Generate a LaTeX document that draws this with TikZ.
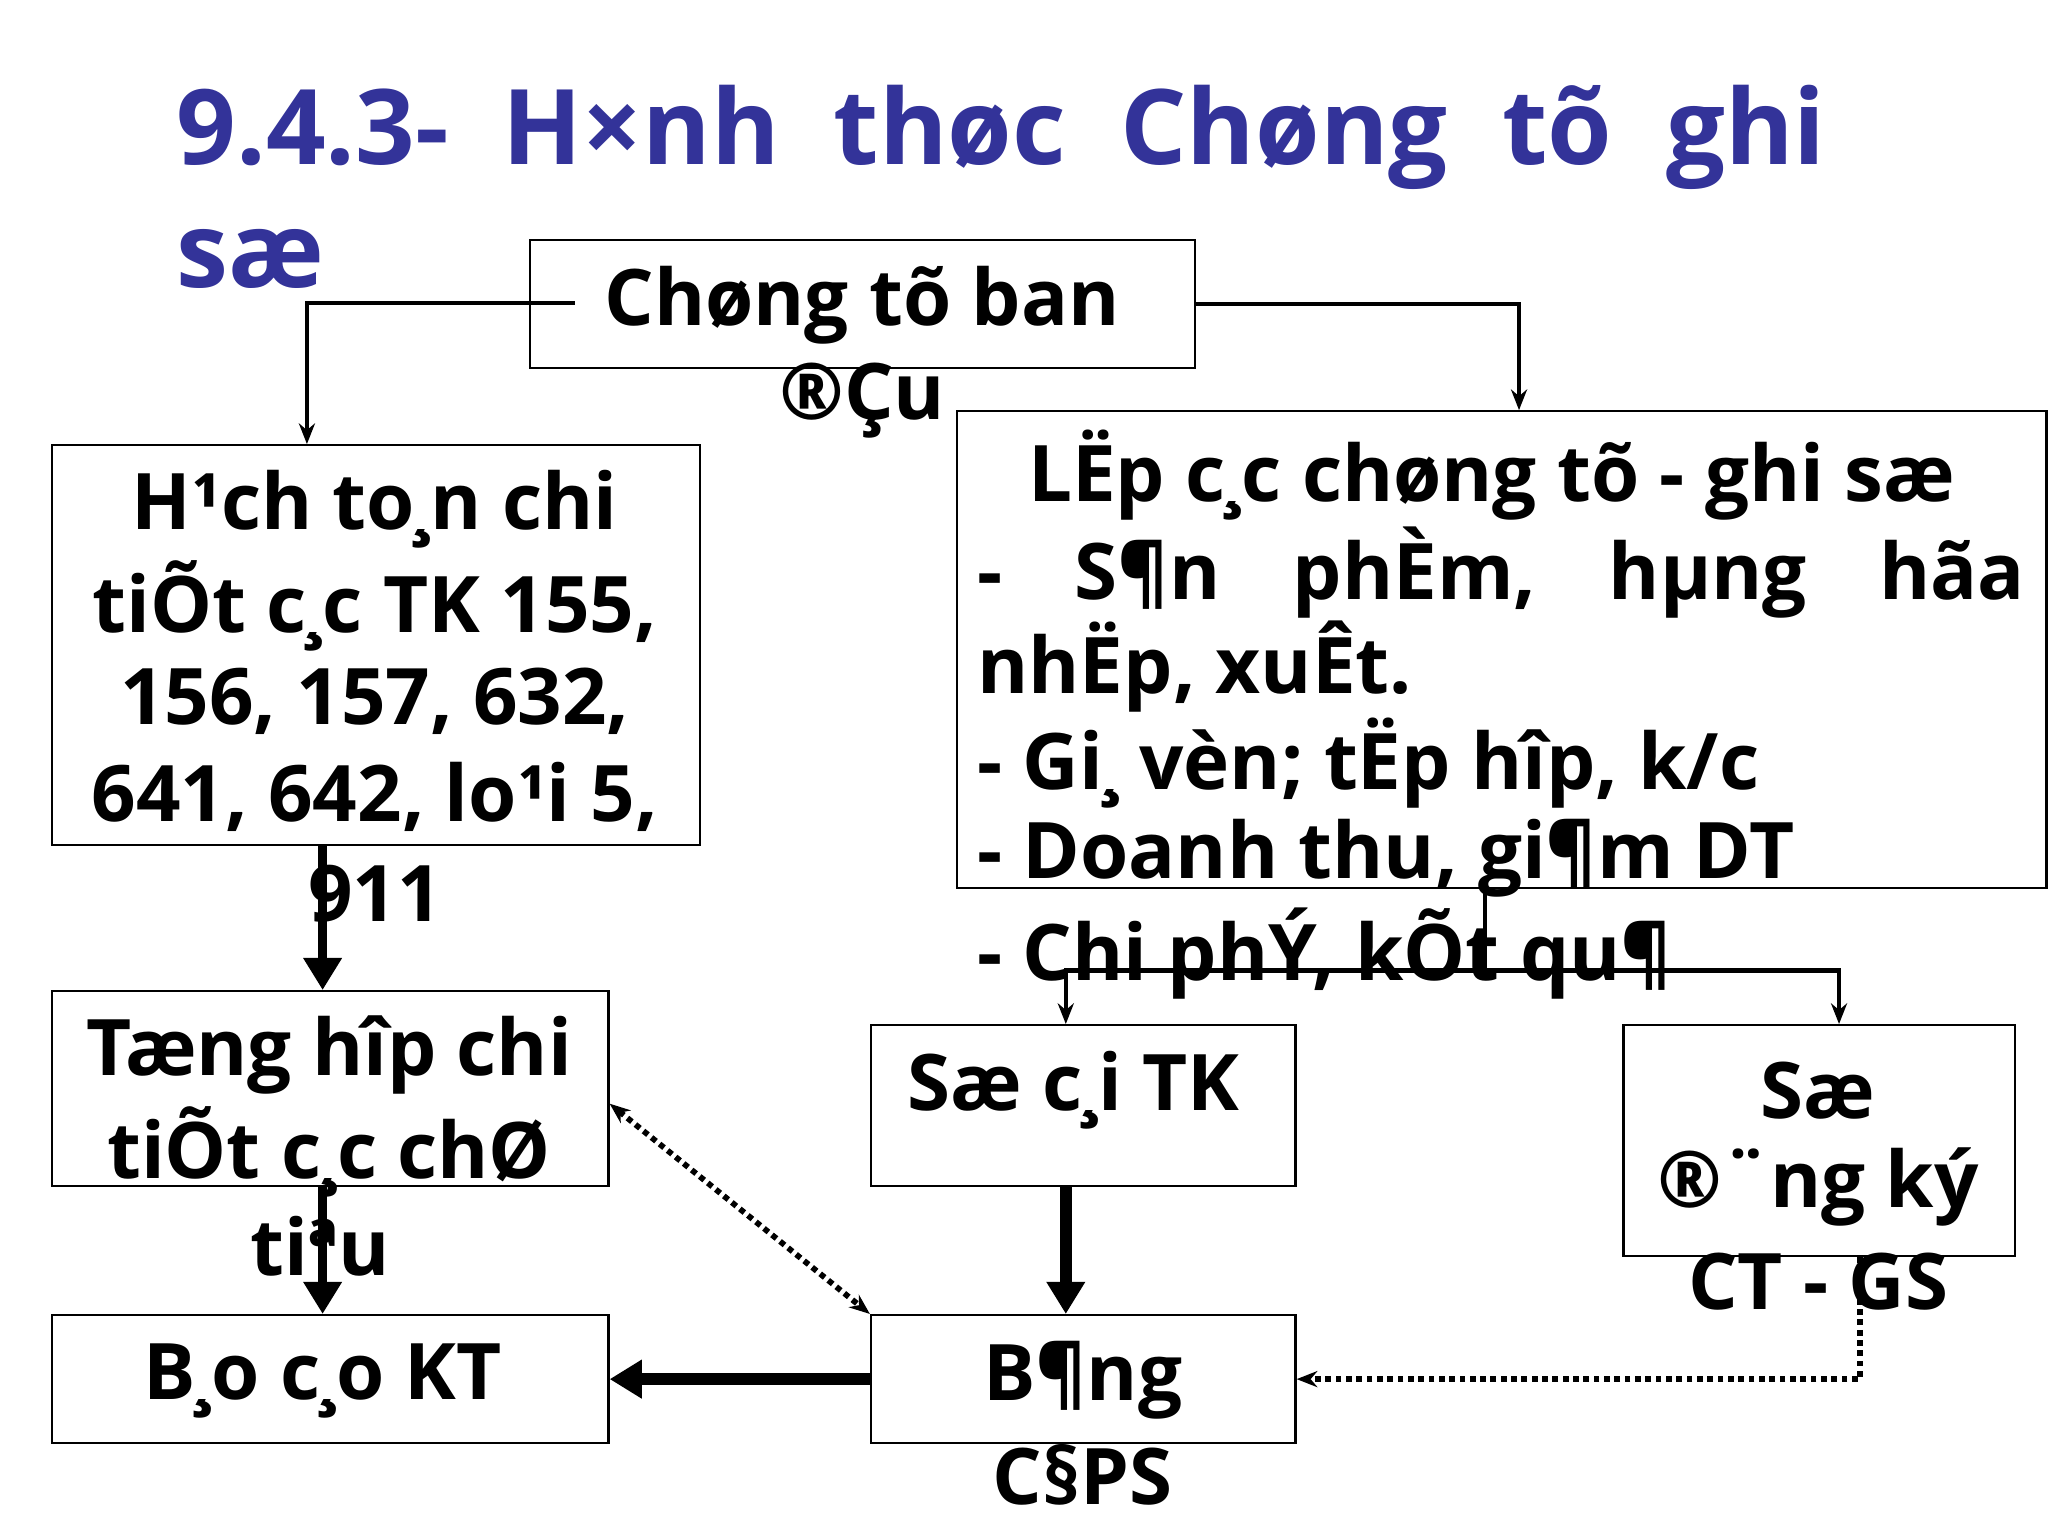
\documentclass[tikz,border=0pt]{standalone}
\usepackage{fontspec}
\setmainfont{Open Sans}
\usetikzlibrary{arrows.meta}
\definecolor{tblue}{RGB}{51,51,153}
\begin{document}
\begin{tikzpicture}[x=0.02cm,y=-0.02cm,
  box/.style={draw,line width=1pt,inner sep=0pt,anchor=north west},
  t/.style={font=\bfseries\fontsize{34}{40}\selectfont,inner sep=0pt},
  ar/.style={line width=2pt,-{Stealth[length=9pt,width=7pt]}},
  thick ar/.style={line width=4pt,-{Triangle[length=14pt,width=16pt]}},
  dot ar/.style={line width=2.5pt,dotted,-{Stealth[length=9pt,width=7pt]}}]
\useasboundingbox (0,0) rectangle (1568,1176);
% title
\node[anchor=base west,inner sep=0pt,text=tblue,font=\bfseries\fontsize{45.5}{56}\selectfont] (title1) at (135,126) {9.4.3-\ \ H×nh\ \ thøc\ \ Chøng\ \ tõ\ \ ghi};
\node[anchor=base west,inner sep=0pt,text=tblue,font=\bfseries\fontsize{45.5}{56}\selectfont] (title2) at (135,220) {sæ};
% boxes
\node[box,minimum width=509*0.02cm,minimum height=98*0.02cm] (A) at (405,183) {};
\node[box,minimum width=496*0.02cm,minimum height=306*0.02cm] (B) at (39,340) {};
\node[box,minimum width=834*0.02cm,minimum height=365*0.02cm] (C) at (732,314) {};
\node[box,minimum width=426*0.02cm,minimum height=149*0.02cm] (D) at (39,758) {};
\node[box,minimum width=325*0.02cm,minimum height=123*0.02cm] (E) at (666,784) {};
\node[box,minimum width=300*0.02cm,minimum height=177*0.02cm] (F) at (1242,784) {};
\node[box,minimum width=426*0.02cm,minimum height=98*0.02cm] (G) at (39,1006) {};
\node[box,minimum width=325*0.02cm,minimum height=98*0.02cm] (H) at (666,1006) {};
% texts
\node[t] (a1) at (660,234) {Chøng tõ ban};
\node[t] (a2) at (660,307) {®Çu};
\node[t] (b1) at (287,390) {H¹ch to¸n chi};
\node[t] (b2) at (287,464) {tiÕt c¸c TK 155,};
\node[t] (b3) at (287,537) {156, 157, 632,};
\node[t] (b4) at (287,610) {641, 642, lo¹i 5,};
\node[t] (b5) at (287,684) {911};
\node[t] (c1) at (1142,364) {LËp c¸c chøng tõ - ghi sæ};
\node[t,anchor=west,text width=802*0.02cm] (c2) at (748,438) {-\hfill S¶n\hfill phÈm,\hfill hµng\hfill hãa};
\node[t,anchor=west] (c3) at (748,510) {nhËp, xuÊt.};
\node[t,anchor=west] (c4) at (748,584) {- Gi¸ vèn; tËp hîp, k/c};
\node[t,anchor=west] (c5) at (748,657) {- Doanh thu, gi¶m DT};
\node[t,anchor=west] (c6) at (748,730) {- Chi phÝ, kÕt qu¶};
\node[t] (d1) at (252,808) {Tæng hîp chi};
\node[t] (d2) at (252,882) {tiÕt c¸c chØ};
\node[t] (d3) at (245,954) {tiªu};
\node[t] (e1) at (822,835) {Sæ c¸i TK};
\node[t] (f1) at (1392,835) {Sæ};
\node[t] (f2) at (1392,909) {®¨ng ký};
\node[t] (f3) at (1392,981) {CT - GS};
\node[t] (g1) at (247,1057) {B¸o c¸o KT};
\node[t] (h1) at (829,1057) {B¶ng};
\node[t] (h2) at (829,1129) {C§PS};
% connectors
\coordinate (aL) at (440,232);
\draw[ar] (aL) -| (B.north -| 235,0);
\draw[ar] (A.east) -| (C.north -| 1163,0);
\coordinate (cb) at (1137,743);
\draw[line width=2pt] (C.south -| cb) -- (cb);
\draw[ar] (cb) -| (E.north -| 816,0);
\draw[ar] (cb) -| (F.north -| 1408,0);
\draw[thick ar] (B.south -| 247,0) -- (D.north -| 247,0);
\draw[thick ar] (D.south -| 247,0) -- (G.north -| 247,0);
\draw[thick ar,line width=5pt] (E.south -| 816,0) -- (H.north -| 816,0);
\draw[thick ar,line width=5pt] (H.west) -- (G.east);
\draw[dot ar,{Stealth[length=9pt,width=7pt]}-{Stealth[length=9pt,width=7pt]}] (D.east |- 0,845) -- (H.north west);
\draw[dot ar] (F.south -| 1424,0) |- (H.east);
\end{tikzpicture}
\end{document}
